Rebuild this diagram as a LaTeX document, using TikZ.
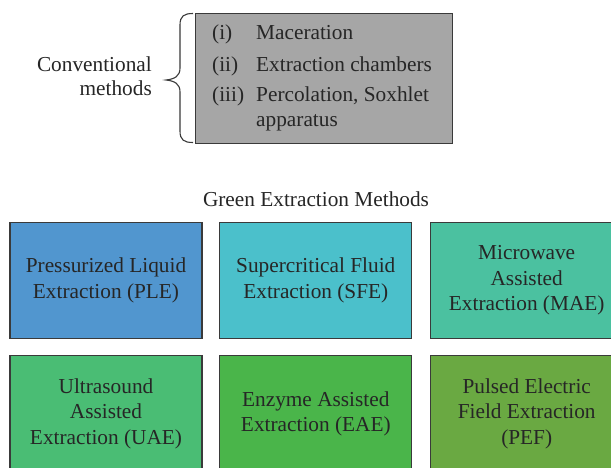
\documentclass[tikz,border=0pt]{standalone}
\usepackage{fontspec}
\setmainfont{Liberation Serif}
\definecolor{txt}{HTML}{262626}
\definecolor{edge}{HTML}{3A3A3A}
\definecolor{grayfill}{HTML}{A6A6A6}
\definecolor{cPLE}{HTML}{5196CF}
\definecolor{cSFE}{HTML}{4BC0CB}
\definecolor{cMAE}{HTML}{4BC1A0}
\definecolor{cUAE}{HTML}{4ABD74}
\definecolor{cEAE}{HTML}{4AB54A}
\definecolor{cPEF}{HTML}{6AA942}
\begin{document}
\begin{tikzpicture}[x=1pt,y=-1pt,
  every node/.style={text=txt, font=\fontsize{21.3}{25.6}\selectfont},
  lbl/.style={inner sep=0pt, anchor=base west},
  method/.style={draw=edge, line width=1.3pt, rectangle, minimum width=192pt, minimum height=116pt, align=center, inner sep=0pt}]
\clip (0,0) rectangle (611,467);
\fill[white] (0,0) rectangle (611,467);
% conventional methods
\node[inner sep=0pt, anchor=base east] (conv1) at (152,71.7) {Conventional};
\node[inner sep=0pt, anchor=base east] (conv2) at (152,95) {methods};
\node[draw=edge, fill=grayfill, line width=1.3pt, minimum width=257.5pt, minimum height=130pt, inner sep=0pt, anchor=north west] (gbox) at (194.5,13) {};
\draw[edge, line width=1.1pt] (193,13.5) .. controls (184,13.5) and (180,16) .. (180,25)
  -- (180,68) .. controls (180,76) and (175,79) .. (166,80)
  .. controls (175,81) and (180,84) .. (180,92)
  -- (180,131) .. controls (180,140) and (184,142.5) .. (193,142.5);
\node[lbl] (n1) at (212,39) {(i)};
\node[lbl] (m1) at (256,39) {Maceration};
\node[lbl] (n2) at (212,71.7) {(ii)};
\node[lbl] (m2) at (256,71.7) {Extraction chambers};
\node[lbl] (n3) at (212,101.7) {(iii)};
\node[lbl] (m3) at (256,101.7) {Percolation, Soxhlet};
\node[lbl] (m4) at (256,126) {apparatus};
% green methods
\node[inner sep=0pt, anchor=base] (title) at (316,206) {Green Extraction Methods};
\node[method, fill=cPLE] (ple) at (106,280.5) {Pressurized Liquid\\Extraction (PLE)};
\node[method, fill=cSFE] (sfe) at (315.8,280.5) {Supercritical Fluid\\Extraction (SFE)};
\node[method, fill=cMAE] (mae) at (526.7,280.5) {Microwave\\Assisted\\Extraction (MAE)};
\node[method, fill=cUAE] (uae) at (106,413.7) {Ultrasound\\Assisted\\Extraction (UAE)};
\node[method, fill=cEAE] (eae) at (315.8,413.7) {Enzyme Assisted\\Extraction (EAE)};
\node[method, fill=cPEF] (pef) at (526.7,413.7) {Pulsed Electric\\Field Extraction\\(PEF)};
\end{tikzpicture}
\end{document}
